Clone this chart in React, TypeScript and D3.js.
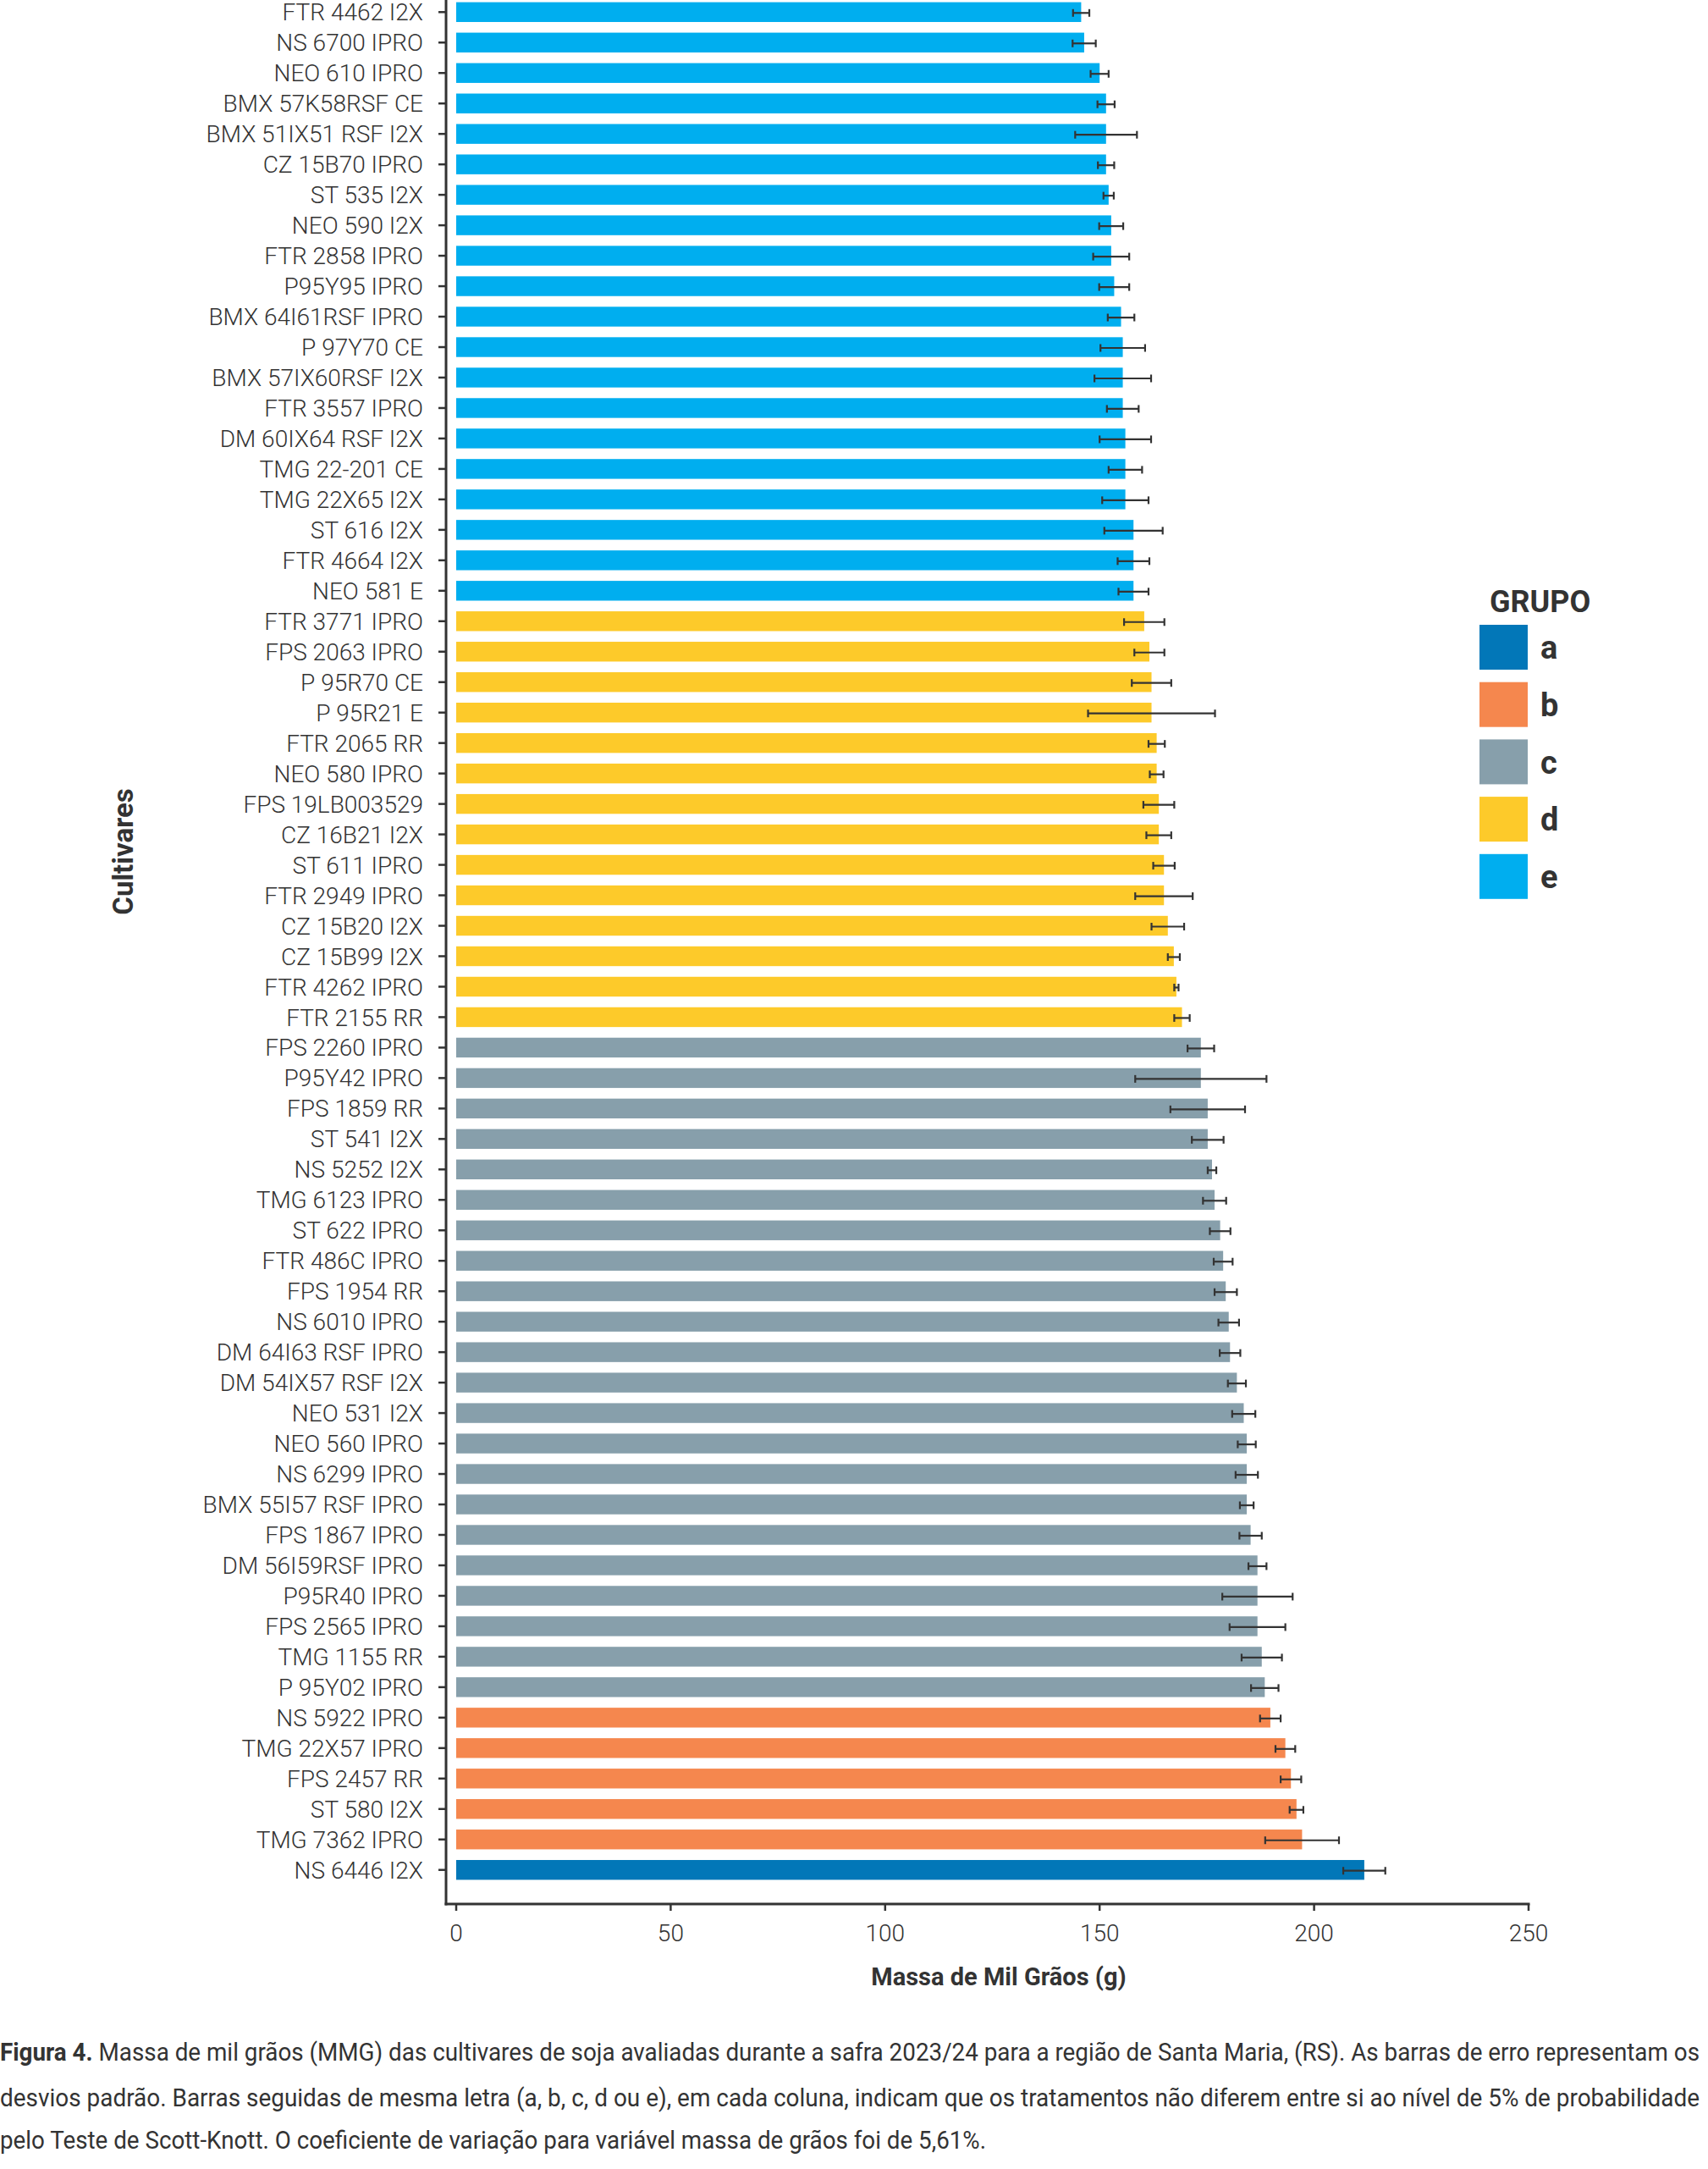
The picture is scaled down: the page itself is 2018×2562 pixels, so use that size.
import React, { useEffect, useRef } from 'react';
import * as d3 from 'd3';

// Cultivares, top to bottom as in the figure
const cultivars: string[] = [
  'FTR 4462 I2X', 'NS 6700 IPRO', 'NEO 610 IPRO', 'BMX 57K58RSF CE', 'BMX 51IX51 RSF I2X',
  'CZ 15B70 IPRO', 'ST 535 I2X', 'NEO 590 I2X', 'FTR 2858 IPRO', 'P95Y95 IPRO',
  'BMX 64I61RSF IPRO', 'P 97Y70 CE', 'BMX 57IX60RSF I2X', 'FTR 3557 IPRO', 'DM 60IX64 RSF I2X',
  'TMG 22-201 CE', 'TMG 22X65 I2X', 'ST 616 I2X', 'FTR 4664 I2X', 'NEO 581 E',
  'FTR 3771 IPRO', 'FPS 2063 IPRO', 'P 95R70 CE', 'P 95R21 E', 'FTR 2065 RR',
  'NEO 580 IPRO', 'FPS 19LB003529', 'CZ 16B21 I2X', 'ST 611 IPRO', 'FTR 2949 IPRO',
  'CZ 15B20 I2X', 'CZ 15B99 I2X', 'FTR 4262 IPRO', 'FTR 2155 RR',
  'FPS 2260 IPRO', 'P95Y42 IPRO', 'FPS 1859 RR', 'ST 541 I2X', 'NS 5252 I2X',
  'TMG 6123 IPRO', 'ST 622 IPRO', 'FTR 486C IPRO', 'FPS 1954 RR', 'NS 6010 IPRO',
  'DM 64I63 RSF IPRO', 'DM 54IX57 RSF I2X', 'NEO 531 I2X', 'NEO 560 IPRO', 'NS 6299 IPRO',
  'BMX 55I57 RSF IPRO', 'FPS 1867 IPRO', 'DM 56I59RSF IPRO', 'P95R40 IPRO', 'FPS 2565 IPRO',
  'TMG 1155 RR', 'P 95Y02 IPRO',
  'NS 5922 IPRO', 'TMG 22X57 IPRO', 'FPS 2457 RR', 'ST 580 I2X', 'TMG 7362 IPRO',
  'NS 6446 I2X',
];

// Massa de mil grãos (g)
const mmg: number[] = [
  145.7, 146.4, 150.0, 151.5, 151.5, 151.5, 152.1, 152.7, 152.7, 153.4,
  155.0, 155.4, 155.4, 155.4, 156.0, 156.0, 156.0, 157.9, 157.9, 157.9,
  160.4, 161.6, 162.1, 162.1, 163.3, 163.3, 163.8, 163.8, 165.0, 165.0,
  165.9, 167.3, 167.9, 169.2,
  173.6, 173.6, 175.2, 175.2, 176.2, 176.8, 178.1, 178.8, 179.4, 180.1,
  180.4, 182.0, 183.6, 184.3, 184.3, 184.3, 185.2, 186.8, 186.8, 186.8,
  187.8, 188.5,
  189.8, 193.3, 194.6, 195.9, 197.2,
  211.7,
];

// Desvio padrão
const sd: number[] = [
  1.9, 2.7, 2.1, 2.0, 7.2, 1.9, 1.2, 2.8, 4.2, 3.5,
  3.1, 5.2, 6.6, 3.7, 6.0, 3.9, 5.4, 6.8, 3.7, 3.5,
  4.7, 3.5, 4.6, 14.8, 1.9, 1.6, 3.6, 2.9, 2.5, 6.7,
  3.8, 1.4, 0.5, 1.8,
  3.1, 15.3, 8.7, 3.7, 1.0, 2.7, 2.4, 2.2, 2.6, 2.4,
  2.4, 2.1, 2.7, 2.1, 2.6, 1.6, 2.6, 2.1, 8.2, 6.5,
  4.7, 3.2,
  2.4, 2.3, 2.4, 1.6, 8.6,
  4.9,
];

// Scott-Knott group of each cultivar
const grupo: string[] = [
  ...Array(20).fill('e'),
  ...Array(14).fill('d'),
  ...Array(22).fill('c'),
  ...Array(5).fill('b'),
  'a',
];

const groups = ['a', 'b', 'c', 'd', 'e'];
const groupColors = ['#0277b8', '#f5874e', '#879fab', '#fdca2a', '#00aeef'];
const xTicks = [0, 50, 100, 150, 200, 250];

const captionLines = [
  'Massa de mil grãos (MMG) das cultivares de soja avaliadas durante a safra 2023/24 para a região de Santa Maria, (RS). As barras de erro representam os',
  'desvios padrão. Barras seguidas de mesma letra (a, b, c, d ou e), em cada coluna, indicam que os tratamentos não diferem entre si ao nível de 5% de probabilidade',
  'pelo Teste de Scott-Knott. O coeficiente de variação para variável massa de grãos foi de 5,61%.',
];

const App = () => {
  const svgRef = useRef<SVGSVGElement | null>(null);

  useEffect(() => {
    if (!svgRef.current) return;
    const width = 2018;
    const height = 2562;
    const ink = '#333333';
    const font = 'Roboto, "Noto Sans", sans-serif';

    const svg = d3.select(svgRef.current)
      .attr('width', width)
      .attr('height', height)
      .attr('viewBox', `0 0 ${width} ${height}`);
    svg.selectAll('*').remove();

    const data = cultivars.map((name, i) => ({ name, value: mmg[i], sd: sd[i], g: grupo[i] }));

    const x = d3.scaleLinear().domain([0, 250]).range([539, 1806]);
    const y = d3.scaleBand<string>()
      .domain(cultivars)
      .range([-3.7, 2226.7])
      .paddingInner(0.35)
      .paddingOuter(0.175);
    const color = d3.scaleOrdinal<string, string>().domain(groups).range(groupColors);

    const axisX = 527;
    const axisY = 2249;

    // bars
    svg.append('g')
      .selectAll('rect')
      .data(data)
      .enter().append('rect')
      .attr('x', x(0))
      .attr('y', d => y(d.name)!)
      .attr('width', d => x(d.value) - x(0))
      .attr('height', y.bandwidth())
      .attr('fill', d => color(d.g));

    // error bars
    const eb = svg.append('g').attr('stroke', ink).attr('stroke-width', 2.2);
    data.forEach(d => {
      const cy = y(d.name)! + y.bandwidth() / 2 + 1;
      const x1 = x(d.value - d.sd);
      const x2 = x(d.value + d.sd);
      eb.append('line').attr('x1', x1).attr('x2', x2).attr('y1', cy).attr('y2', cy);
      eb.append('line').attr('x1', x1).attr('x2', x1).attr('y1', cy - 4.5).attr('y2', cy + 4.5);
      eb.append('line').attr('x1', x2).attr('x2', x2).attr('y1', cy - 4.5).attr('y2', cy + 4.5);
    });

    // axes lines
    svg.append('line')
      .attr('x1', axisX).attr('x2', axisX).attr('y1', 0).attr('y2', axisY + 1.5)
      .attr('stroke', ink).attr('stroke-width', 3);
    svg.append('line')
      .attr('x1', axisX - 1.5).attr('x2', x(250) + 1.5).attr('y1', axisY).attr('y2', axisY)
      .attr('stroke', ink).attr('stroke-width', 3);

    // y ticks + category labels
    const yg = svg.append('g');
    cultivars.forEach(c => {
      const cy = y(c)! + y.bandwidth() / 2;
      yg.append('line')
        .attr('x1', axisX - 9).attr('x2', axisX).attr('y1', cy).attr('y2', cy)
        .attr('stroke', ink).attr('stroke-width', 2.5);
      yg.append('text')
        .attr('x', 500)
        .attr('y', cy)
        .attr('dy', '0.36em')
        .attr('text-anchor', 'end')
        .attr('fill', ink)
        .style('font-family', font)
        .style('font-weight', 300)
        .style('font-size', '28px')
        .text(c);
    });

    // x ticks
    const xg = svg.append('g');
    xTicks.forEach(t => {
      xg.append('line')
        .attr('x1', x(t)).attr('x2', x(t)).attr('y1', axisY).attr('y2', axisY + 8)
        .attr('stroke', ink).attr('stroke-width', 2.5);
      xg.append('text')
        .attr('x', x(t))
        .attr('y', 2283)
        .attr('dy', '0.36em')
        .attr('text-anchor', 'middle')
        .attr('fill', ink)
        .style('font-family', font)
        .style('font-weight', 300)
        .style('font-size', '28px')
        .text(t);
    });

    // axis titles
    svg.append('text')
      .attr('x', 1180)
      .attr('y', 2335)
      .attr('dy', '0.36em')
      .attr('text-anchor', 'middle')
      .attr('fill', ink)
      .style('font-family', font)
      .style('font-weight', 700)
      .style('font-size', '29px')
      .text('Massa de Mil Grãos (g)');

    svg.append('text')
      .attr('transform', 'translate(145,1006) rotate(-90)')
      .attr('dy', '0.36em')
      .attr('text-anchor', 'middle')
      .attr('fill', ink)
      .style('font-family', font)
      .style('font-weight', 700)
      .style('font-size', '33px')
      .text('Cultivares');

    // legend
    const lg = svg.append('g');
    lg.append('text')
      .attr('x', 1760)
      .attr('y', 710)
      .attr('dy', '0.36em')
      .attr('fill', ink)
      .style('font-family', font)
      .style('font-weight', 700)
      .style('font-size', '36px')
      .text('GRUPO');
    groups.forEach((g, i) => {
      const top = 738 + i * 67.7;
      lg.append('rect')
        .attr('x', 1748).attr('y', top).attr('width', 57).attr('height', 53)
        .attr('fill', color(g));
      lg.append('text')
        .attr('x', 1820)
        .attr('y', top + 26.5)
        .attr('dy', '0.36em')
        .attr('fill', ink)
        .style('font-family', font)
        .style('font-weight', 700)
        .style('font-size', '38px')
        .text(g);
    });

    // caption
    const lineY = [2423, 2477, 2527];
    const lineLen = [2008, 2008, 1165];
    captionLines.forEach((l, i) => {
      const t = svg.append('text')
        .attr('x', 0)
        .attr('y', lineY[i])
        .attr('dy', '0.36em')
        .attr('fill', ink)
        .attr('textLength', lineLen[i])
        .attr('lengthAdjust', 'spacingAndGlyphs')
        .style('font-family', font)
        .style('font-weight', 400)
        .style('font-size', '30px');
      if (i === 0) {
        t.append('tspan').style('font-weight', 700).text('Figura 4. ');
      }
      t.append('tspan').text(l);
    });
  }, []);

  return (
    <div style={{ position: 'absolute', left: 0, top: 0, background: '#fff' }}>
      <svg ref={svgRef}></svg>
    </div>
  );
};

export default App;
